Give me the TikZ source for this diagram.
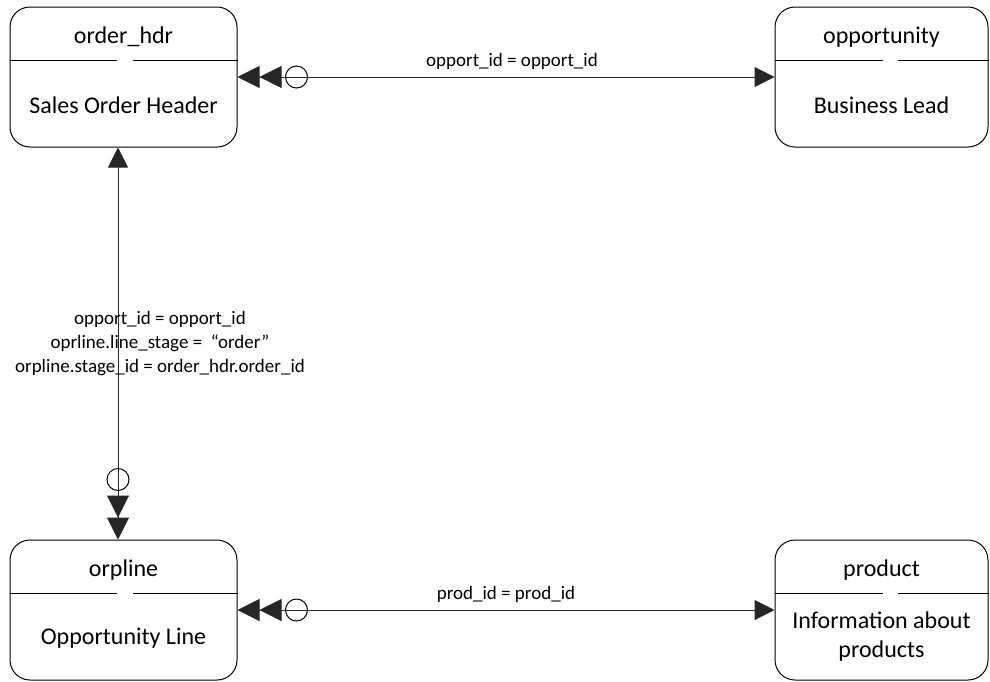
\documentclass[tikz,border=0pt]{standalone}
\usepackage{fontspec}
\setmainfont{Carlito}
\usetikzlibrary{arrows.meta}
\begin{document}
\begin{tikzpicture}[x=1pt, y=-1pt, line width=1pt,
    entity/.style={draw, rounded corners=20pt, inner sep=0pt, minimum height=140pt},
    label/.style={font=\fontsize{24}{29}\selectfont, align=center},
    rel/.style={font=\fontsize{19}{24}\selectfont, align=center},
    conn/.style={draw=black!85},
    many/.tip={Triangle[length=22pt,width=22pt,sep=0pt]Triangle[length=22pt,width=22pt,sep=0pt]},
    one/.tip={Triangle[length=20pt,width=20pt]}]
    \useasboundingbox (0,0) rectangle (990,681);
    % entities
    \node[entity, minimum width=227pt] (hdr) at (123.5,77) {};
    \node[entity, minimum width=213pt] (opp) at (881.5,77) {};
    \node[entity, minimum width=227pt] (orp) at (123.5,610) {};
    \node[entity, minimum width=213pt] (prod) at (881.5,610) {};
    \node[label] (hdr-t) at ([yshift=40]hdr.center) {order\_hdr};
    \node[label] (hdr-b) at ([yshift=-28]hdr.center) {Sales Order Header};
    \node[label] (opp-t) at ([yshift=40]opp.center) {opportunity};
    \node[label] (opp-b) at ([yshift=-28]opp.center) {Business Lead};
    \node[label] (orp-t) at ([yshift=40]orp.center) {orpline};
    \node[label] (orp-b) at ([yshift=-28]orp.center) {Opportunity Line};
    \node[label] (prod-t) at ([yshift=40]prod.center) {product};
    \node[label] (prod-b) at ([yshift=-27]prod.center) {Information about\\products};
    % dividers (with the small gap)
    \draw ([yshift=17]hdr.west) -- ([xshift=-6.5,yshift=17]hdr.center) ([xshift=9.5,yshift=17]hdr.center) -- ([yshift=17]hdr.east);
    \draw ([yshift=17]orp.west) -- ([xshift=-6.5,yshift=17]orp.center) ([xshift=9.5,yshift=17]orp.center) -- ([yshift=17]orp.east);
    \draw ([yshift=17]opp.west) -- ([xshift=1.5,yshift=17]opp.center) ([xshift=16.5,yshift=17]opp.center) -- ([yshift=17]opp.east);
    \draw ([yshift=17]prod.west) -- ([xshift=1.5,yshift=17]prod.center) ([xshift=16.5,yshift=17]prod.center) -- ([yshift=17]prod.east);
    % relations
    \draw[conn, many-one] (hdr.east) -- node[rel, above=4pt, xshift=6] (r1) {opport\_id = opport\_id} (opp.west);
    \draw[conn, many-one] (orp.east) -- node[rel, above=4pt] (r2) {prod\_id = prod\_id} (prod.west);
    \draw[conn, one-many] ([xshift=-5.5]hdr.south) -- node[rel, xshift=42] (r3) {opport\_id = opport\_id\\oprline.line\_stage = \ “order”\\orpline.stage\_id = order\_hdr.order\_id} ([xshift=-5.5]orp.north);
    \draw ([xshift=59]hdr.east) circle[radius=11];
    \draw ([xshift=59]orp.east) circle[radius=11];
    \draw ([xshift=-5.5,yshift=60]orp.north) circle[radius=11];
\end{tikzpicture}
\end{document}
